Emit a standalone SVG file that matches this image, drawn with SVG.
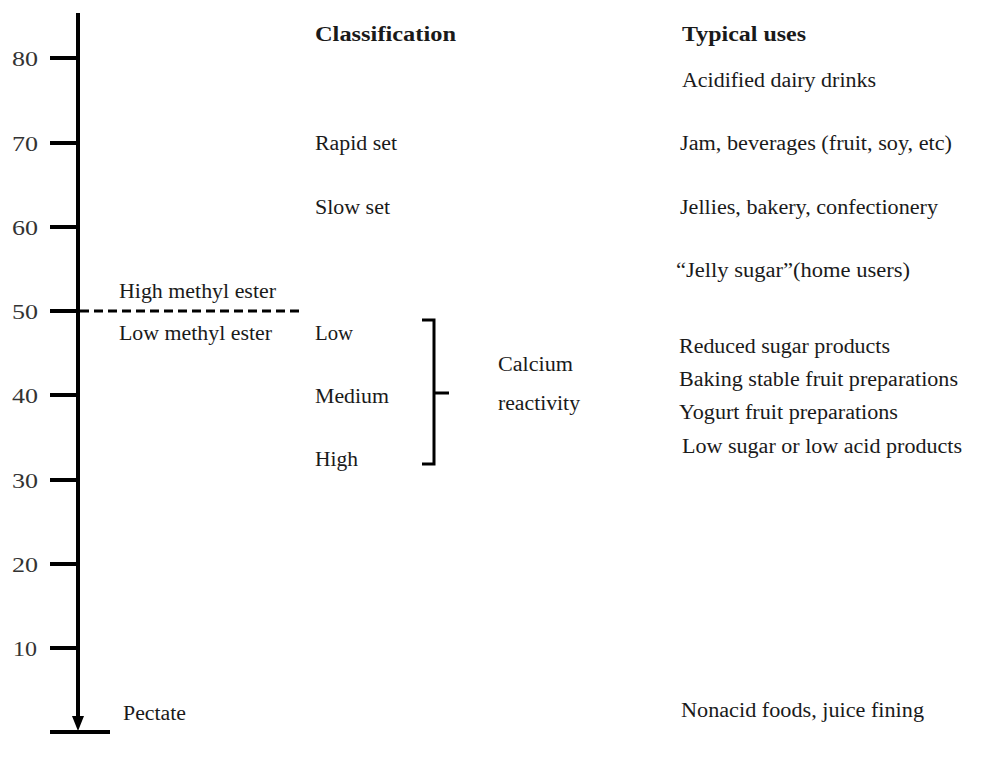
<svg xmlns="http://www.w3.org/2000/svg" width="997" height="757" viewBox="0 0 997 757">
<style>
text{font-family:"Liberation Serif","Times New Roman",serif;font-size:20px;fill:#1a1a1a}
.b{font-weight:bold;font-size:20px}
.n{font-size:21px;fill:#333}
.ax{stroke:#000;stroke-width:4;fill:none}
.tk{stroke:#000;stroke-width:4}
</style>
<g id="connectors">
<line class="ax" x1="78" y1="13" x2="78" y2="722"/>
<path d="M72,716 L84,716 L78,731 Z" fill="#000"/>
<line class="tk" x1="50" y1="732" x2="110" y2="732" stroke-width="3"/>
<g id="ticks">
<line class="tk" x1="50" y1="58" x2="78" y2="58"/>
<line class="tk" x1="50" y1="143" x2="78" y2="143"/>
<line class="tk" x1="50" y1="227" x2="78" y2="227"/>
<line class="tk" x1="50" y1="311" x2="78" y2="311"/>
<line class="tk" x1="50" y1="395" x2="78" y2="395"/>
<line class="tk" x1="50" y1="480" x2="78" y2="480"/>
<line class="tk" x1="50" y1="564" x2="78" y2="564"/>
<line class="tk" x1="50" y1="648" x2="78" y2="648"/>
</g>
<line x1="80" y1="311" x2="302" y2="311" stroke="#000" stroke-width="3" stroke-dasharray="9,5"/>
<path d="M422,320 L434,320 L434,464 L422,464 M434,393 L449,393" fill="none" stroke="#000" stroke-width="3"/>
</g>
<g id="axis-labels">
<text class="n" x="12" y="66" textLength="26" lengthAdjust="spacingAndGlyphs">80</text>
<text class="n" x="12" y="151" textLength="26" lengthAdjust="spacingAndGlyphs">70</text>
<text class="n" x="12" y="235" textLength="26" lengthAdjust="spacingAndGlyphs">60</text>
<text class="n" x="12" y="319" textLength="26" lengthAdjust="spacingAndGlyphs">50</text>
<text class="n" x="12" y="403" textLength="26" lengthAdjust="spacingAndGlyphs">40</text>
<text class="n" x="12" y="488" textLength="26" lengthAdjust="spacingAndGlyphs">30</text>
<text class="n" x="12" y="572" textLength="26" lengthAdjust="spacingAndGlyphs">20</text>
<text class="n" x="13" y="656" textLength="24" lengthAdjust="spacingAndGlyphs">10</text>
</g>
<g id="headers">
<text class="b" x="315" y="41" textLength="141" lengthAdjust="spacingAndGlyphs">Classification</text>
<text class="b" x="682" y="41" textLength="124" lengthAdjust="spacingAndGlyphs">Typical uses</text>
</g>
<g id="classification">
<text x="119" y="298" textLength="157" lengthAdjust="spacingAndGlyphs">High methyl ester</text>
<text x="119" y="340" textLength="153" lengthAdjust="spacingAndGlyphs">Low methyl ester</text>
<text x="315" y="150" textLength="82" lengthAdjust="spacingAndGlyphs">Rapid set</text>
<text x="315" y="214" textLength="75" lengthAdjust="spacingAndGlyphs">Slow set</text>
<text x="315" y="340" textLength="38" lengthAdjust="spacingAndGlyphs">Low</text>
<text x="315" y="403" textLength="74" lengthAdjust="spacingAndGlyphs">Medium</text>
<text x="315" y="466" textLength="43" lengthAdjust="spacingAndGlyphs">High</text>
<text x="498" y="371" textLength="75" lengthAdjust="spacingAndGlyphs">Calcium</text>
<text x="498" y="410" textLength="82" lengthAdjust="spacingAndGlyphs">reactivity</text>
<text x="123" y="720" textLength="63" lengthAdjust="spacingAndGlyphs">Pectate</text>
</g>
<g id="uses">
<text x="682" y="87" textLength="194" lengthAdjust="spacingAndGlyphs">Acidified dairy drinks</text>
<text x="680" y="150" textLength="272" lengthAdjust="spacingAndGlyphs">Jam, beverages (fruit, soy, etc)</text>
<text x="680" y="214" textLength="258" lengthAdjust="spacingAndGlyphs">Jellies, bakery, confectionery</text>
<text x="676" y="277" textLength="234" lengthAdjust="spacingAndGlyphs">“Jelly sugar”(home users)</text>
<text x="679" y="353" textLength="211" lengthAdjust="spacingAndGlyphs">Reduced sugar products</text>
<text x="679" y="386" textLength="279" lengthAdjust="spacingAndGlyphs">Baking stable fruit preparations</text>
<text x="679" y="419" textLength="219" lengthAdjust="spacingAndGlyphs">Yogurt fruit preparations</text>
<text x="682" y="453" textLength="280" lengthAdjust="spacingAndGlyphs">Low sugar or low acid products</text>
<text x="681" y="717" textLength="243" lengthAdjust="spacingAndGlyphs">Nonacid foods, juice fining</text>
</g>
</svg>
